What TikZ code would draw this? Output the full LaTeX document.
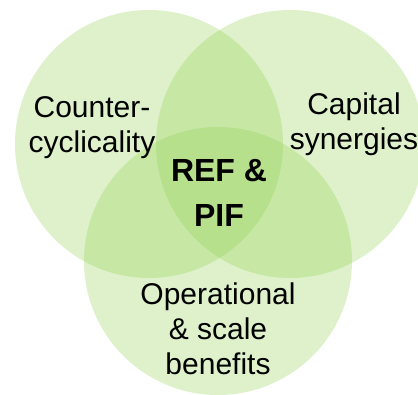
\documentclass[tikz,border=0pt]{standalone}
\usepackage{fontspec}
\setmainfont{Liberation Sans}
\definecolor{venngreen}{HTML}{92D050}
\begin{document}
\begin{tikzpicture}[x=1pt,y=-1pt,
  setcircle/.style={fill=venngreen,fill opacity=0.3,draw=none},
  setlabel/.style={anchor=base,inner sep=0pt,text=black,
    font=\fontsize{30}{35}\selectfont},
  corelabel/.style={anchor=base,inner sep=0pt,text=black,
    font=\fontsize{32}{45}\selectfont\bfseries}]
  \useasboundingbox (0,0) rectangle (418,395);
  % the three overlapping sets
  \fill[setcircle] (149,144) circle[radius=134];
  \fill[setcircle] (290,144) circle[radius=134];
  \fill[setcircle] (218,261) circle[radius=134];
  % labels (anchored on the baseline of the first line)
  \node[setlabel] (counter) at (92,118)
    {\begin{tabular}[t]{@{}c@{}}Counter-\\cyclicality\end{tabular}};
  \node[setlabel] (capital) at (354,115)
    {\begin{tabular}[t]{@{}c@{}}Capital\\synergies\end{tabular}};
  \node[setlabel] (operational) at (218,305)
    {\begin{tabular}[t]{@{}c@{}}Operational\\\& scale\\benefits\end{tabular}};
  \node[corelabel] (core) at (219,182)
    {\begin{tabular}[t]{@{}c@{}}REF \&\\PIF\end{tabular}};
\end{tikzpicture}
\end{document}
